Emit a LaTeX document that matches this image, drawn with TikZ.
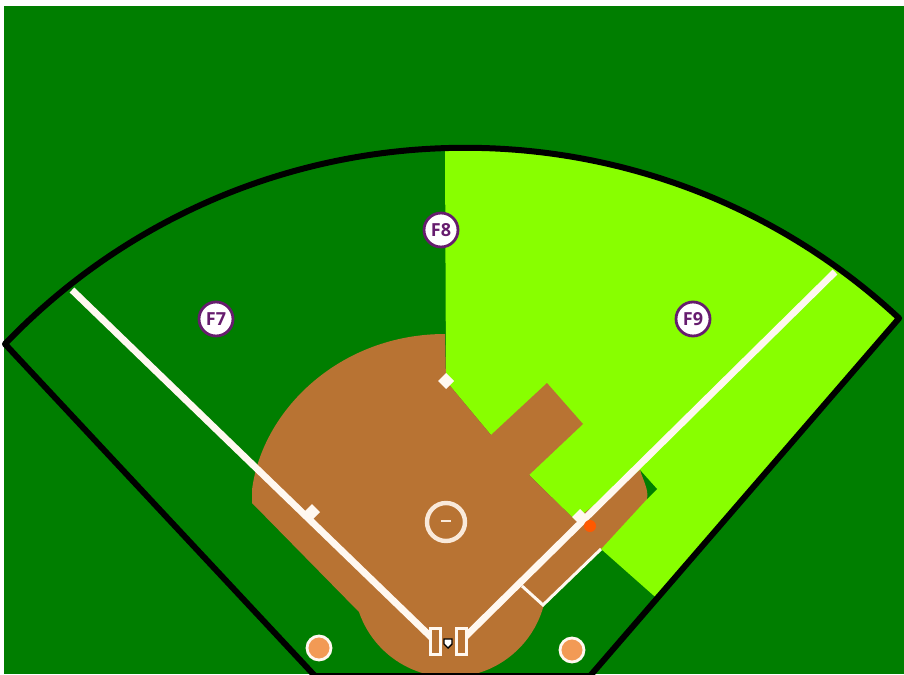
\documentclass[tikz,border=0pt]{standalone}
\usepackage{fontspec}
\setsansfont{Open Sans}
\definecolor{grassDark}{HTML}{007E00}
\definecolor{grassLight}{HTML}{88FF00}
\definecolor{clay}{HTML}{B87333}
\definecolor{chalk}{HTML}{FFF8F0}
\definecolor{moundRing}{HTML}{F9E9DA}
\definecolor{fielderPurple}{HTML}{661C6E}
\definecolor{bagOrange}{HTML}{F29A55}
\begin{document}
\begin{tikzpicture}[x=0.5pt, y=-0.5pt, align=center]
	% Styles
	\tikzstyle{fielder} = [circle, draw=fielderPurple, fill=white, line width=1.4pt, minimum size=17pt, inner sep=0pt, text=fielderPurple, font=\sffamily\bfseries\fontsize{9}{10}\selectfont]
	\tikzstyle{foulLine} = [chalk, line width=3.4pt]
	\tikzstyle{thinLine} = [chalk, line width=1.5pt]
	\tikzstyle{fence} = [black, line width=3pt, line join=round]
	\tikzstyle{bagBase} = [fill=chalk, draw=none]
	\tikzstyle{batterBox} = [draw=chalk, fill=clay, line width=1.5pt]
	\tikzstyle{warmup} = [circle, draw=chalk, fill=bagOrange, line width=1.4pt, minimum size=12pt, inner sep=0pt]

	\useasboundingbox (0,0) rectangle (904,674);
	\clip (0,0) rectangle (904,674);

	% Field
	\fill[grassDark] (4,6) rectangle (904,674);
	\fill[grassLight] (445,148) arc[start angle=-91.8, end angle=-47.1, radius=637.5] -- (658,599) -- (653,595) -- (601,549) -- (575,520) -- (529,475) -- (491,435) -- (446,381) -- cycle;
	\fill[grassDark] (640,470) -- (657,489) -- (647,499) -- cycle;
	\fill[clay] (445,334) .. controls (340,334) and (262,410) .. (252,490) -- (252,503) -- (359,612)
		arc[start angle=161, end angle=14.5, radius=96.6] -- (601,549) -- (647,499)
		.. controls (649,490) and (643,480) .. (640,470) -- (575,520) -- (529,475) -- (583,424) -- (547,383) -- (491,435) -- (446,381) -- cycle;

	% Lines
	\draw[foulLine] (72,290) -- (432,638);
	\draw[foulLine] (835,272) -- (464,638);
	\draw[thinLine] (522,586) -- (543,605) -- (601,549);
	\draw[moundRing, line width=2.2pt] (446,522) circle[radius=19];
	\draw[moundRing, line width=1pt] (441,521) -- (451,521);

	% Bases
	\fill[bagBase] (446,373) -- (454,381) -- (446,389) -- (438,381) -- cycle;
	\fill[bagBase] (312,504) -- (320,512) -- (312,520) -- (304,512) -- cycle;
	\fill[bagBase] (580,509) -- (588,517) -- (580,525) -- (572,517) -- cycle;
	\fill[orange!70!red] (590,526) circle[radius=6];
	\draw[batterBox] (430,628) rectangle (440,654);
	\draw[batterBox] (456,628) rectangle (466,654);
	\draw[black, fill=white, line width=0.7pt] (444,639) -- (452,639) -- (452,644) -- (448,648) -- (444,644) -- cycle;

	% Fence
	\draw[fence] (315,676) -- (5,344) arc[start angle=-136.2, end angle=-47.1, radius=637.5] -- (590,676) -- cycle;

	% Nodes
	\node[warmup] (warmupLeft) at (319,648) {};
	\node[warmup] (warmupRight) at (572,650) {};
	\node[fielder] (leftField) at (216,319) {F7};
	\node[fielder] (centerField) at (441,230) {F8};
	\node[fielder] (rightField) at (693,319) {F9};
\end{tikzpicture}
\end{document}
